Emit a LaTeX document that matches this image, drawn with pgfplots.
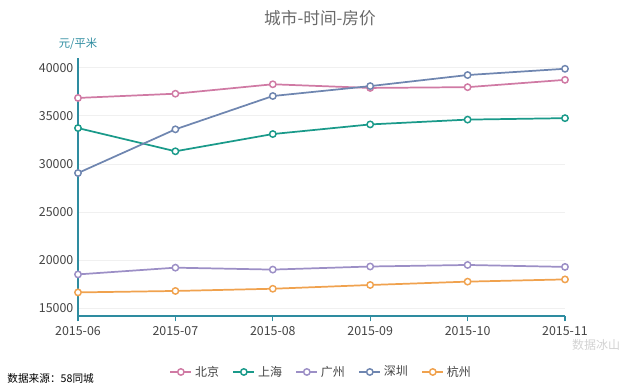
\documentclass[border=0pt]{standalone}
\usepackage{pgfplots}
\pgfplotsset{compat=1.18}
\usepackage{fontspec}
\setmainfont{Noto Sans CJK SC}
\definecolor{cBJ}{HTML}{D07AA4}
\definecolor{cSH}{HTML}{1A9A8A}
\definecolor{cGZ}{HTML}{9C8FC6}
\definecolor{cSZ}{HTML}{6F86B0}
\definecolor{cHZ}{HTML}{F0A24E}
\definecolor{axc}{HTML}{2E8CA0}
\definecolor{txt}{HTML}{444444}
\begin{document}
\begin{tikzpicture}
\useasboundingbox (0,0) rectangle (480pt,291pt);
\node[text=txt!80, font=\fontsize{12.5}{14}\selectfont] at (240pt,277.5pt) {城市-时间-房价};
\node[anchor=west, font=\fontsize{8}{10}\selectfont] at (2pt,7.5pt) {数据来源：58同城};
\node[text=gray!35, font=\fontsize{9}{10}\selectfont] at (447pt,32pt) {数据冰山};
\begin{axis}[
  at={(58.5pt,54pt)}, anchor=south west,
  scale only axis, width=365.25pt, height=193.5pt,
  xmin=0, xmax=5, ymin=14200, ymax=41000,
  axis x line*=bottom, axis y line*=left,
  axis line style={axc, line width=1.2pt, -},
  xtick={0,1,2,3,4,5},
  xticklabels={2015-06,2015-07,2015-08,2015-09,2015-10,2015-11},
  ytick={15000,20000,25000,30000,35000,40000},
  scaled y ticks=false,
  yticklabel style={/pgf/number format/fixed, /pgf/number format/1000 sep={}},
  /pgf/number format/1000 sep={},
  /pgf/number format/assume math mode=true,
  ticklabel style={font=\fontsize{9.3}{10}\selectfont, text=txt},
  x tick style={axc, line width=0.8pt},
  major tick length=4pt,
  xtick align=outside,
  y tick style={draw=none},
  ymajorgrids, grid style={gray!12, line width=0.5pt},
  ylabel={元/平米},
  ylabel style={rotate=-90, at={(axis description cs:0,1)}, anchor=south, yshift=3pt, text=axc, font=\fontsize{8.5}{10}\selectfont},
  legend style={at={(0.5,-0.217)}, anchor=center, draw=none, fill=none,
    legend columns=5, font=\fontsize{9}{10}\selectfont, text=txt,
    /tikz/every even column/.append style={column sep=8pt}},
  legend image code/.code={\draw[mark repeat=2,mark phase=2] plot coordinates {(0cm,0cm) (0.28cm,0cm) (0.56cm,0cm)};},
  every axis plot/.append style={line width=1.3pt, mark=o, mark size=2.4pt, mark options={fill=white, line width=1.1pt}},
  clip=false,
]
\addplot[cBJ, mark=*] coordinates {(0,36850) (1,37290) (2,38270) (3,37890) (4,37970) (5,38730)};
\addlegendentry{北京}
\addplot[cSH, mark=*] coordinates {(0,33720) (1,31310) (2,33100) (3,34100) (4,34600) (5,34750)};
\addlegendentry{上海}
\addplot[cGZ, mark=*] coordinates {(0,18520) (1,19220) (2,19020) (3,19340) (4,19500) (5,19300)};
\addlegendentry{广州}
\addplot[cSZ, mark=*] coordinates {(0,29050) (1,33590) (2,37050) (3,38080) (4,39230) (5,39880)};
\addlegendentry{深圳}
\addplot[cHZ, mark=*] coordinates {(0,16650) (1,16800) (2,17030) (3,17420) (4,17770) (5,18000)};
\addlegendentry{杭州}
\end{axis}
\end{tikzpicture}
\end{document}
